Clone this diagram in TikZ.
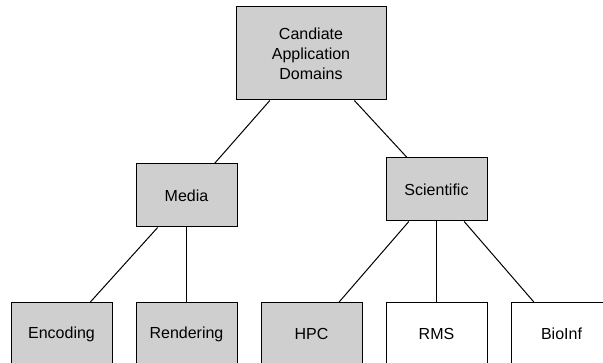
\documentclass[tikz,border=0pt]{standalone}
\usepackage{fontspec}
\setmainfont{Liberation Sans}
\definecolor{boxgray}{RGB}{207,207,207}

\begin{document}
\begin{tikzpicture}[x=1pt, y=-1pt, line width=1pt,
    areabox/.style={rectangle, draw, minimum width=101pt, minimum height=63pt, align=center, font=\fontsize{16}{20}\selectfont},
    chosen/.style={areabox, fill=boxgray}]
    \clip (0,0) rectangle (603,363);

    % Root
    \node[chosen, minimum width=150pt, minimum height=93pt] (ROOT) at (311,53.5) {Candiate\\Application\\Domains};

    % Second level
    \node[chosen] (MEDIA) at (186.5,195.5) {Media};
    \node[chosen] (SCI) at (436.5,189.5) {Scientific};

    % Leaves
    \node[chosen] (ENC) at (61.5,334) {Encoding};
    \node[chosen] (REN) at (186.5,334) {Rendering};
    \node[chosen] (HPC) at (311.5,334) {HPC};
    \node[areabox] (RMS) at (436.5,334) {RMS};
    \node[areabox] (BIO) at (561.5,334) {BioInf};

    % Connections
    \draw (ROOT) -- (MEDIA);
    \draw (ROOT) -- (SCI);
    \draw (MEDIA) -- (ENC);
    \draw (MEDIA) -- (REN);
    \draw (SCI) -- (HPC);
    \draw (SCI) -- (RMS);
    \draw (SCI) -- (BIO);
\end{tikzpicture}
\end{document}
